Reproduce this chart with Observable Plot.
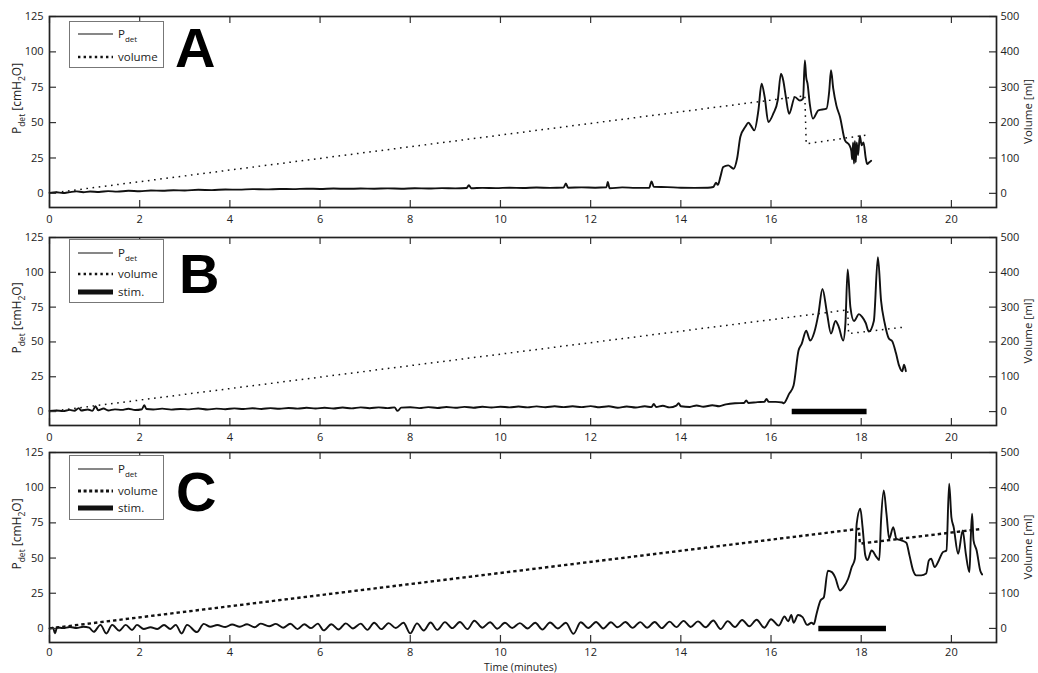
<!DOCTYPE html>
<html><head><meta charset="utf-8">
<script src="https://cdn.jsdelivr.net/npm/d3@7"></script>
<script src="https://cdn.jsdelivr.net/npm/@observablehq/plot@0.6"></script>
<style>
html,body{margin:0;padding:0;background:#fff;}
#wrap{position:relative;width:1038px;height:673px;overflow:hidden;background:#fff;}
.panel{position:absolute;left:0;}
</style></head>
<body><div id="wrap"></div>
<script>
// ---- data ----
const xTicks = [0,2,4,6,8,10,12,14,16,18,20];
const yTicks = [0,25,50,75,100,125];
const volFactor = 4; // right axis (ml) = 4 x left axis (cmH2O)

const pdetA = [[0,0.3],[0.15,0.8],[0.3,0.2],[0.45,0.9],[0.6,1.4],[0.75,0.8],[0.9,1.3],[1.1,1.0],[1.3,1.6],[1.5,1.2],[1.75,1.8],[2.0,1.5],[2.25,2.0],[2.5,1.8],[2.75,2.2],[3.0,2.0],[3.3,2.5],[3.6,2.3],[3.9,2.7],[4.2,2.6],[4.5,3.0],[4.8,2.8],[5.1,3.1],[5.4,3.0],[5.7,3.3],[6.0,3.1],[6.3,3.4],[6.6,3.2],[6.9,3.4],[7.2,3.3],[7.5,3.5],[7.8,3.3],[8.1,3.6],[8.4,3.4],[8.7,3.7],[9.0,3.5],[9.25,3.8],[9.3,5.8],[9.35,3.6],[9.6,3.9],[9.9,3.7],[10.2,4.0],[10.5,3.8],[10.8,4.1],[11.1,3.9],[11.4,4.1],[11.45,7.0],[11.5,4.0],[11.8,4.2],[12.1,4.0],[12.35,4.3],[12.38,8.0],[12.42,3.6],[12.7,4.2],[13.0,3.9],[13.3,4.0],[13.35,8.5],[13.4,4.6],[13.7,4.4],[14.0,4.0],[14.3,3.9],[14.6,4.0],[14.72,4.5],[14.78,7.5],[14.82,6.0],[14.88,12],[14.94,18.6],[15.05,19.8],[15.17,17.4],[15.25,25],[15.32,40],[15.43,47],[15.5,50],[15.55,48],[15.63,44.5],[15.72,58.6],[15.79,77.5],[15.86,68],[15.94,50.4],[16.05,56.3],[16.15,66],[16.22,84.5],[16.27,80],[16.33,68],[16.4,56.3],[16.53,68],[16.64,65.6],[16.71,67],[16.75,94],[16.78,82],[16.81,77.5],[16.86,63],[16.93,52.8],[17.05,58.7],[17.23,59.9],[17.29,72],[17.33,87],[17.38,74],[17.45,62],[17.53,54],[17.64,37.4],[17.74,33.9],[17.78,30],[17.8,24],[17.82,36],[17.84,21],[17.86,37],[17.88,22],[17.9,36],[17.93,27],[17.97,40.7],[18.01,34],[18.05,36],[18.1,25],[18.13,20.7],[18.18,22],[18.22,23]];
const volA = [[0,0],[16.75,276],[16.78,140],[18.12,165]];

const pdetB = [[0,0.5],[0.15,0.8],[0.3,0.3],[0.45,1.2],[0.55,0.6],[0.65,2.5],[0.7,0.8],[0.85,1.5],[0.95,0.5],[1.02,3.8],[1.08,1.0],[1.2,2.2],[1.3,0.8],[1.45,1.6],[1.6,1.2],[1.75,2.0],[1.9,1.1],[2.05,1.7],[2.1,4.5],[2.15,1.8],[2.3,1.5],[2.5,2.1],[2.7,1.4],[2.9,1.9],[3.1,1.6],[3.3,2.2],[3.5,1.5],[3.7,2.1],[3.9,1.7],[4.1,2.3],[4.3,1.8],[4.5,2.4],[4.7,1.9],[4.9,2.5],[5.1,2.0],[5.3,2.6],[5.5,2.1],[5.7,2.7],[5.9,2.2],[6.1,2.8],[6.3,2.2],[6.5,2.9],[6.7,2.3],[6.9,3.0],[7.1,2.4],[7.3,3.0],[7.5,2.5],[7.65,3.0],[7.72,0.5],[7.8,2.8],[8.0,3.1],[8.2,2.5],[8.4,3.2],[8.6,2.6],[8.8,3.3],[9.0,2.7],[9.2,3.4],[9.4,2.8],[9.6,3.5],[9.8,2.9],[10.0,3.5],[10.2,3.0],[10.4,3.6],[10.6,3.0],[10.8,3.7],[11.0,3.1],[11.2,3.8],[11.4,3.2],[11.6,3.8],[11.8,3.2],[12.0,3.9],[12.2,3.1],[12.4,3.8],[12.6,2.8],[12.8,3.6],[13.0,2.9],[13.2,3.8],[13.35,3.2],[13.4,5.5],[13.45,3.3],[13.6,4.2],[13.75,3.0],[13.9,4.3],[13.95,6.0],[14.0,3.8],[14.2,3.3],[14.35,4.4],[14.5,3.5],[14.7,4.5],[14.85,3.8],[15.0,5.2],[15.2,6.0],[15.4,6.2],[15.45,8.0],[15.5,6.2],[15.7,6.8],[15.85,7.0],[15.9,9.0],[15.95,7.0],[16.1,7.0],[16.25,6.5],[16.28,6],[16.4,12.7],[16.5,18.7],[16.61,43.8],[16.68,48.6],[16.78,58],[16.87,51],[16.96,57],[17.05,70],[17.14,88],[17.24,71],[17.33,56],[17.43,65],[17.5,61],[17.6,51],[17.65,63.5],[17.7,102],[17.76,75],[17.84,65],[17.95,70],[18.02,68],[18.1,63.6],[18.17,57.4],[18.28,65],[18.37,110.8],[18.44,79.7],[18.52,63.6],[18.61,52.7],[18.69,50.4],[18.77,42],[18.84,33],[18.91,29],[18.95,33.6],[18.99,29]];
const volB = [[0,0],[17.7,292],[17.72,224],[18.92,242]];
const stimB = [{start:16.47,end:18.13,level:0}];

const pdetC = [[0,0],[0.08,0.5],[0.12,-3.5],[0.17,0.8],[0.3,0.2],[0.45,1],[0.6,0.3],[0.75,1.2],[0.88,0.5],[0.98,-2.4],[1.13,2.5],[1.26,-3.6],[1.39,2.5],[1.55,-1.6],[1.69,2.5],[1.83,-1.1],[1.94,2.5],[2.09,-0.4],[2.24,0.8],[2.39,-0.4],[2.54,2.4],[2.68,-0.4],[2.8,2.5],[2.93,-3.6],[3.05,2.5],[3.27,-2.6],[3.42,3.2],[3.57,1.2],[3.72,2.4],[3.9,1.0],[4.05,2.8],[4.22,1.2],[4.38,3.0],[4.55,0.8],[4.68,3.4],[4.87,1.5],[5.02,3.2],[5.18,0.5],[5.34,3.3],[5.5,-0.5],[5.65,3.0],[5.8,0.2],[5.95,3.4],[6.08,-1.4],[6.25,3.0],[6.41,-0.8],[6.57,3.6],[6.73,0.0],[6.9,3.4],[7.05,-1.0],[7.2,4.0],[7.36,-0.5],[7.52,3.8],[7.68,0.3],[7.85,4.0],[8.0,-3.5],[8.15,3.6],[8.3,-1.5],[8.45,4.2],[8.6,-1.0],[8.77,4.5],[8.93,0.2],[9.1,4.6],[9.27,-0.5],[9.42,5.5],[9.6,0.5],[9.77,4.4],[9.93,-0.2],[10.1,4.0],[10.26,0.3],[10.43,3.8],[10.6,0.0],[10.77,4.0],[10.93,-0.8],[11.1,4.2],[11.27,0.0],[11.45,4.0],[11.62,-3.8],[11.78,4.4],[11.95,0.3],[12.12,4.6],[12.28,0.0],[12.45,4.4],[12.6,0.8],[12.77,4.6],[12.93,0.4],[13.1,4.5],[13.25,0.5],[13.42,4.6],[13.58,0.2],[13.75,4.8],[13.9,0.9],[14.06,5.4],[14.22,1.0],[14.38,5.0],[14.55,0.8],[14.72,5.6],[14.88,-0.5],[15.04,5.2],[15.2,1.0],[15.36,6.0],[15.52,1.5],[15.68,6.2],[15.85,0.5],[16.0,6.5],[16.17,2.0],[16.3,8.5],[16.38,5.0],[16.45,9.5],[16.5,4.0],[16.6,9.5],[16.7,8.0],[16.8,2.5],[16.9,4.0],[16.95,3.0],[17.0,9],[17.02,11.6],[17.1,20],[17.17,22],[17.26,41],[17.35,40],[17.42,36.5],[17.53,27],[17.6,29],[17.71,35.3],[17.79,43.6],[17.86,49.5],[17.9,74.4],[17.98,85],[18.03,72],[18.09,52],[18.14,48.6],[18.23,55.4],[18.34,50.7],[18.4,48.6],[18.44,76.8],[18.5,98],[18.56,81.5],[18.62,63.7],[18.71,72],[18.78,63.7],[18.89,62.5],[19.0,60.9],[19.07,51.9],[19.15,41.2],[19.22,37.7],[19.33,37.7],[19.44,39],[19.5,48.3],[19.55,49.5],[19.63,43.6],[19.72,48.3],[19.81,54.2],[19.89,55.4],[19.95,102.8],[20.0,79],[20.05,72],[20.15,53],[20.25,69.6],[20.32,53],[20.4,40],[20.43,65],[20.46,81.5],[20.49,62.5],[20.56,55.4],[20.64,41],[20.68,38.4]];
const volC = [[0,0],[17.95,283],[17.97,241],[20.68,283]];
const stimC = [{start:17.06,end:18.56,level:0}];

const legendLabels = ["det","volume","stim."];

// ---- layout ----
const W = 1038, ML = 49, MR = 42, MT = 16;
const panels = [
  {name:"A", pdet:pdetA, vol:volA, stim:null, top:0,   h:191, mb:30, pad:8, volW:1.5, volDash:"1.6,4.6",
   box:[5,51], rows:[18,41], letter:[175,51], stimLabel:null},
  {name:"B", pdet:pdetB, vol:volB, stim:stimB, top:221, h:188, mb:30, pad:8, volW:1.5, volDash:"1.6,4.6",
   box:[2,65], rows:[16,37,55], letter:[179,56], stimLabel:"stim."},
  {name:"C", pdet:pdetC, vol:volC, stim:stimC, top:436, h:190, mb:37, pad:6, volW:2.4, volDash:"3.4,3",
   box:[3,67], rows:[17,39,56], letter:[176,59], stimLabel:"stim."}
];

const wrap = document.getElementById("wrap");
const FONT = "'Open Sans', 'DejaVu Sans', sans-serif";

panels.forEach((p, i) => {
  const H = MT + p.h + p.mb;
  const fw = W - ML - MR;
  const tk = 7;
  const marks = [
    Plot.line(p.vol, {x: d => d[0], y: d => d[1] / volFactor, stroke: "#111", strokeWidth: p.volW, strokeDasharray: p.volDash, strokeLinecap: "butt"}),
    Plot.line(p.pdet, {x: d => d[0], y: d => d[1], stroke: "#111", strokeWidth: 1.9, strokeLinejoin: "round", curve: "monotone-x"}),
  ];
  if (p.stim) marks.push(Plot.ruleY(p.stim, {x1: "start", x2: "end", y: "level", stroke: "#000", strokeWidth: 5.5}));
  marks.push(
    Plot.ruleX(xTicks, {x: d => d, insetTop: p.h - tk, stroke: "#333", strokeWidth: 1.2}),
    Plot.ruleX(xTicks, {x: d => d, insetBottom: p.h - tk, stroke: "#333", strokeWidth: 1.2}),
    Plot.ruleY(yTicks, {y: d => d, insetRight: fw - tk, stroke: "#333", strokeWidth: 1.2}),
    Plot.ruleY(yTicks, {y: d => d, insetLeft: fw - tk, stroke: "#333", strokeWidth: 1.2}),
    Plot.frame({stroke: "#222", strokeWidth: 1.7}),
    Plot.axisX({ticks: xTicks, tickSize: 0, tickPadding: p.pad, label: null, fontSize: 11, fill: "#222"}),
    Plot.axisY({anchor: "left", ticks: yTicks, tickSize: 0, tickPadding: 6, label: null, fontSize: 11, fill: "#222"}),
    Plot.axisY({anchor: "right", ticks: yTicks, tickSize: 0, tickPadding: 4, tickFormat: d => d * volFactor, label: null, fontSize: 11, fill: "#222"})
  );
  const svg = Plot.plot({
    width: W, height: H,
    marginLeft: ML, marginRight: MR, marginTop: MT, marginBottom: p.mb,
    x: {domain: [0, 21]},
    y: {domain: [-10, 125]},
    style: {background: "transparent", overflow: "visible", fontFamily: FONT, fontSize: "11px", color: "#222"},
    marks
  });
  const div = document.createElement("div");
  div.className = "panel";
  div.style.top = p.top + "px";
  div.appendChild(svg);
  wrap.appendChild(div);

  const s = d3.select(svg);
  const g = s.append("g").attr("font-family", FONT).attr("fill", "#222").attr("text-anchor", "start");
  // legend
  const by0 = MT + p.box[0], by1 = MT + p.box[1];
  g.append("rect").attr("x", 69.5).attr("y", by0 + 0.5).attr("width", 94).attr("height", by1 - by0)
    .attr("fill", "#fff").attr("stroke", "#777").attr("stroke-width", 1);
  p.rows.forEach((r, k) => {
    const y = MT + r;
    const ln = g.append("line").attr("x1", 78).attr("x2", 113).attr("y1", y).attr("y2", y).attr("stroke", "#111");
    const t = g.append("text").attr("x", 118).attr("y", y + 4).attr("font-size", 11.5);
    if (k === 0) {
      ln.attr("stroke-width", 1.2);
      t.append("tspan").text("P");
      t.append("tspan").attr("font-size", 8).attr("dy", 4).text(legendLabels[0]);
    } else if (k === 1) {
      ln.attr("stroke-width", p.name === "C" ? 2.8 : 2.6).attr("stroke-dasharray", p.name === "C" ? "3,2.6" : "2.4,3.2");
      t.text(legendLabels[1]);
    } else {
      ln.attr("stroke-width", 5);
      t.text(p.stimLabel);
    }
  });
  // panel letter
  g.append("text").attr("x", p.letter[0]).attr("y", MT + p.letter[1])
    .attr("font-family", "'Liberation Sans', Arial, sans-serif").attr("font-weight", "bold")
    .attr("font-size", 56).attr("fill", "#000").text(p.name);
  // left y label
  const cy = MT + p.h / 2 - 13;
  const yl = g.append("text").attr("transform", `translate(21,${cy}) rotate(-90)`).attr("text-anchor", "middle").attr("font-size", 12);
  yl.append("tspan").text("P");
  yl.append("tspan").attr("font-size", 8.5).attr("dy", 3.5).text("det");
  yl.append("tspan").attr("dy", -3.5).text(" [cmH");
  yl.append("tspan").attr("font-size", 8.5).attr("dy", 3.5).text("2");
  yl.append("tspan").attr("dy", -3.5).text("O]");
  // right y label
  g.append("text").attr("transform", `translate(1032,${MT + p.h / 2}) rotate(-90)`).attr("text-anchor", "middle")
    .attr("font-size", 11.5).text("Volume [ml]");
  if (i === 2) {
    g.append("text").attr("x", ML + fw / 2 - 2).attr("y", MT + p.h + 28.5).attr("text-anchor", "middle")
      .attr("font-size", 10.5).text("Time (minutes)");
  }
});
</script>
</body></html>
